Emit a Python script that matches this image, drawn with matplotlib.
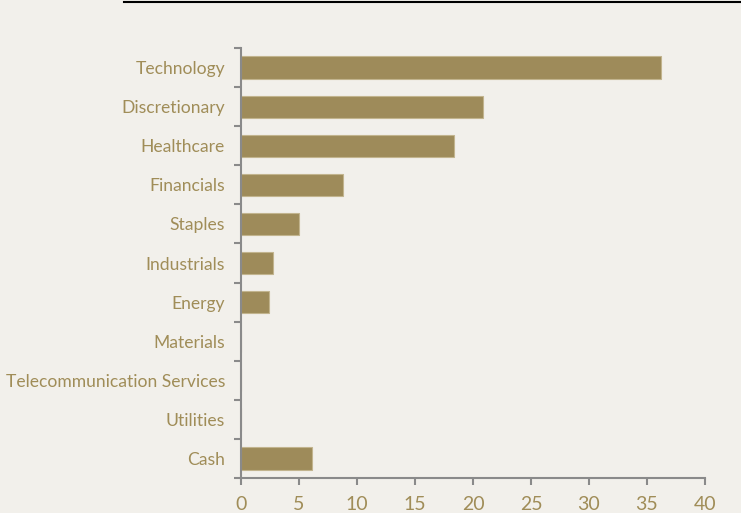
import matplotlib.pyplot as plt
import numpy as np
from matplotlib.lines import Line2D

sectors = ["Technology", "Discretionary", "Healthcare", "Financials", "Staples",
           "Industrials", "Energy", "Materials", "Telecommunication Services",
           "Utilities", "Cash"]
weights = [36.2, 20.9, 18.4, 8.8, 5.0, 2.8, 2.4, 0, 0, 0, 6.1]
xticks = [0, 5, 10, 15, 20, 25, 30, 35, 40]

bg = "#f2f0eb"
bar_color = "#9e8b5a"
text_color = "#a08d58"
spine_color = "#8a8a8a"

plt.rcParams['font.family'] = ['Lato', 'DejaVu Sans']

fig = plt.figure(figsize=(7.41, 5.13), dpi=100, facecolor=bg)
ax = fig.add_axes([0.3252, 0.0682, 0.6262, 0.8382])
ax.set_facecolor(bg)

y = np.arange(len(sectors))
ax.barh(y, weights, height=0.57, color=bar_color, edgecolor="#c2b48e", linewidth=0.8)

ax.set_ylim(len(sectors) - 0.5, -0.5)
ax.set_xlim(0, 40)
ax.set_yticks(y)
ax.set_yticklabels(sectors)
ax.set_yticks(np.arange(-0.5, len(sectors), 1), minor=True)
ax.set_xticks(xticks)
ax.set_xticklabels([str(t) for t in xticks])

ax.tick_params(axis="y", which="major", length=0, pad=11.5, labelsize=12.6, labelcolor=text_color)
ax.tick_params(axis="y", which="minor", length=5, width=1.5, color=spine_color)
ax.tick_params(axis="x", length=5, width=1.5, color=spine_color, pad=8, labelsize=14, labelcolor=text_color)

for side in ["top", "right"]:
    ax.spines[side].set_visible(False)
for side in ["left", "bottom"]:
    ax.spines[side].set_color(spine_color)
    ax.spines[side].set_linewidth(1.5)

fig.add_artist(Line2D([124 / 741, 1.0], [1 - 2 / 513, 1 - 2 / 513], color="black", lw=1.5))

fig.savefig("out.png", dpi=100, facecolor=bg)
